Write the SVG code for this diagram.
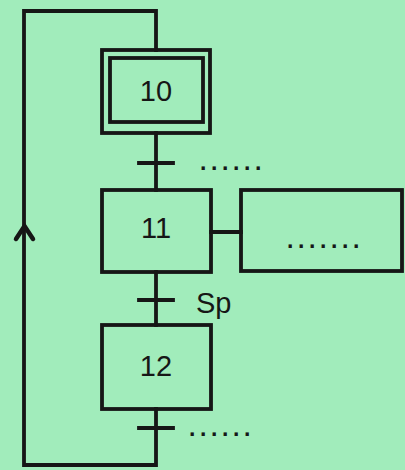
<svg xmlns="http://www.w3.org/2000/svg" width="405" height="470" viewBox="0 0 405 470">
<style>
.ln{fill:none;stroke:#161616;stroke-width:3.8;stroke-linecap:square}
.bx{fill:none;stroke:#161616;stroke-width:3.8}
.num{font-family:"Liberation Sans",Arial,sans-serif;font-size:29px;fill:#161616;text-anchor:middle}
.lbl{font-family:"Liberation Sans",Arial,sans-serif;font-size:29px;fill:#161616}
.dots{font-family:"Liberation Sans",Arial,sans-serif;font-size:23px;font-weight:bold;fill:#161616;letter-spacing:4.6px}
</style>
<rect width="405" height="470" fill="#a1ecbb"/>
<g id="connectors">
<polyline class="ln" points="156,50 156,11 24,11 24,465 156,465 156,409"/>
<line class="ln" x1="156" y1="133" x2="156" y2="190"/>
<line class="ln" x1="156" y1="272" x2="156" y2="325"/>
<line class="ln" x1="211" y1="232" x2="241" y2="232"/>
<polyline points="16,239 24.5,226 33,239" fill="none" stroke="#161616" stroke-width="4.5" stroke-linecap="round" stroke-linejoin="miter"/>
</g>
<g id="step10">
<rect class="bx" x="102" y="50" width="108" height="83"/>
<rect class="bx" x="110" y="58" width="93" height="64"/>
<text class="num" x="156" y="101">10</text>
</g>
<g id="t1">
<line class="ln" x1="139" y1="163" x2="173" y2="163"/>
<text class="dots" x="200" y="170">......</text>
</g>
<g id="step11">
<rect class="bx" x="102" y="190" width="109" height="82"/>
<text class="num" x="156" y="238">11</text>
</g>
<g id="action11">
<rect class="bx" x="241" y="190" width="161" height="81"/>
<text class="dots" x="287" y="248">.......</text>
</g>
<g id="t2">
<line class="ln" x1="139" y1="300" x2="173" y2="300"/>
<text class="lbl" x="196" y="313">Sp</text>
</g>
<g id="step12">
<rect class="bx" x="102" y="325" width="109" height="84"/>
<text class="num" x="156" y="376">12</text>
</g>
<g id="t3">
<line class="ln" x1="139" y1="428" x2="173" y2="428"/>
<text class="dots" x="189" y="436">......</text>
</g>
</svg>
